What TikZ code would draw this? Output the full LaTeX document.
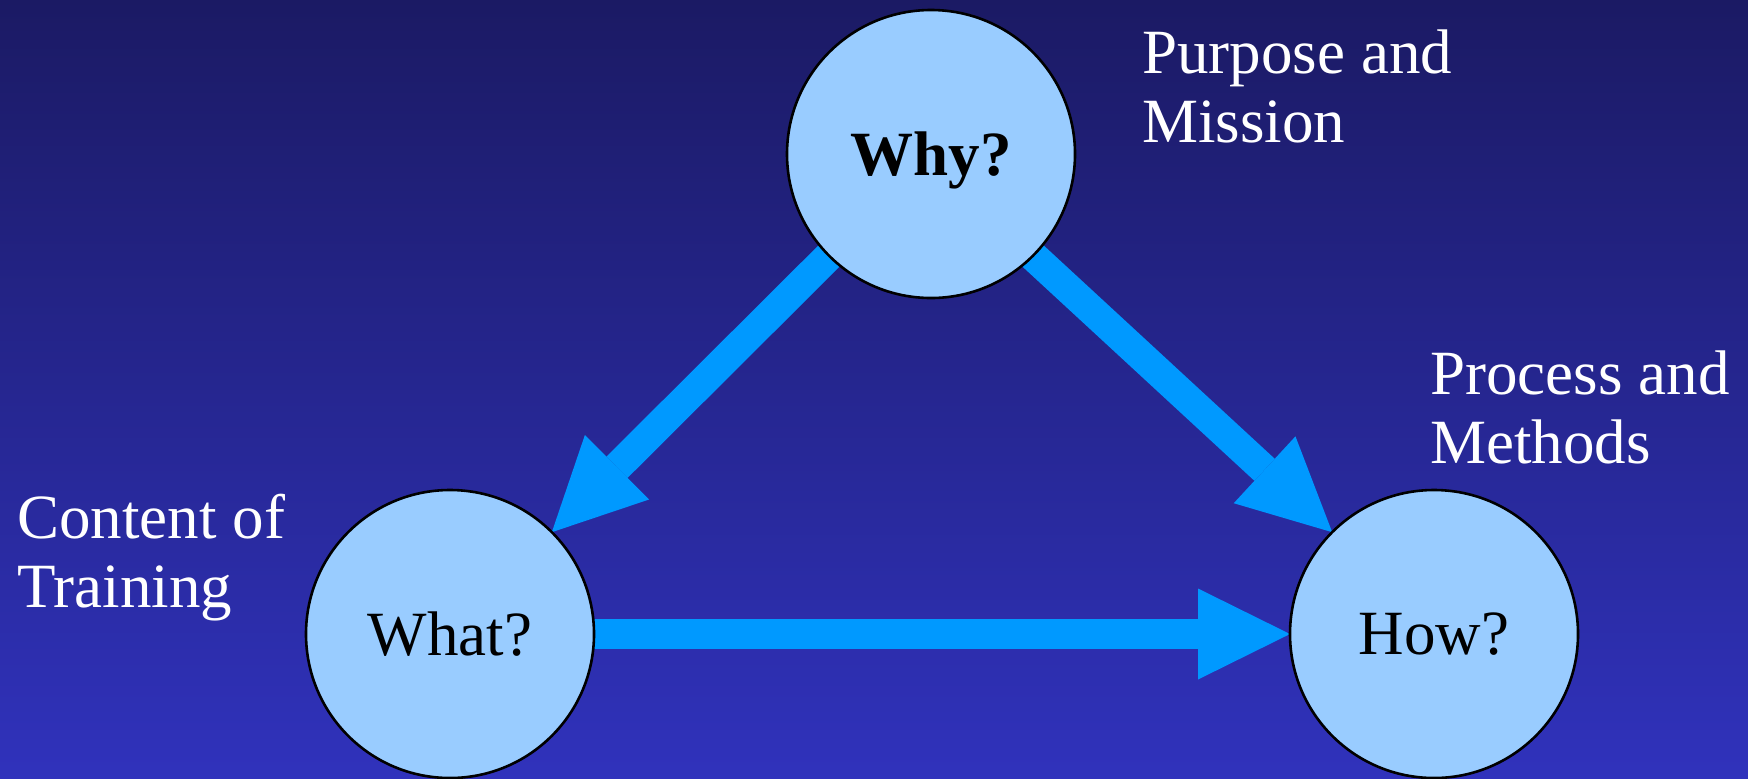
\documentclass[tikz,border=0pt]{standalone}
\usepackage{fontspec}
\setmainfont{Liberation Serif}
\usetikzlibrary{arrows.meta}
\pgfdeclarelayer{bg}
\pgfdeclarelayer{arr}
\pgfsetlayers{bg,arr,main}
\definecolor{bgtop}{RGB}{27,26,100}
\definecolor{bgbot}{RGB}{48,50,188}
\definecolor{ballfill}{RGB}{153,204,255}
\definecolor{arrowblue}{RGB}{0,153,255}
\begin{document}
\begin{tikzpicture}[x=0.5pt,y=-0.5pt,
  ball/.style={circle, draw=black, line width=1.3pt, fill=ballfill, minimum size=144pt,
    inner sep=0pt, outer sep=0pt, font=\fontsize{31.5}{34.5}\selectfont, text depth=0pt},
  lbl/.style={text=white, align=left, inner sep=0pt,
    font=\fontsize{31.5}{34.5}\selectfont, anchor=base west},
  flow/.style={draw=arrowblue, line width=15pt,
    -{Triangle[length=46pt,width=45.5pt,line width=0pt]}, shorten <=-4pt}
]
\useasboundingbox (0,0) rectangle (1748,778);
\begin{pgfonlayer}{bg}
\shade[top color=bgtop,bottom color=bgbot] (0,0) rectangle (1748,778);
\end{pgfonlayer}

\node[ball] (why) at (931,154) {\bfseries Why?\hspace{8pt}};
\node[ball] (what) at (450,634) {What?};
\node[ball] (how) at (1434,634) {How?};

\node[lbl] (purpose) at (1142,142) {Purpose and\\Mission};
\node[lbl] (content) at (17,607) {Content of\\Training};
\node[lbl] (process) at (1430,463) {Process and\\Methods};

\begin{pgfonlayer}{arr}
\draw[flow] (why.-135) -- (what.45);
\draw[flow] (why.-45) -- (how.135);
\draw[flow] (what.0) -- (how.180);
\end{pgfonlayer}
\end{tikzpicture}
\end{document}
